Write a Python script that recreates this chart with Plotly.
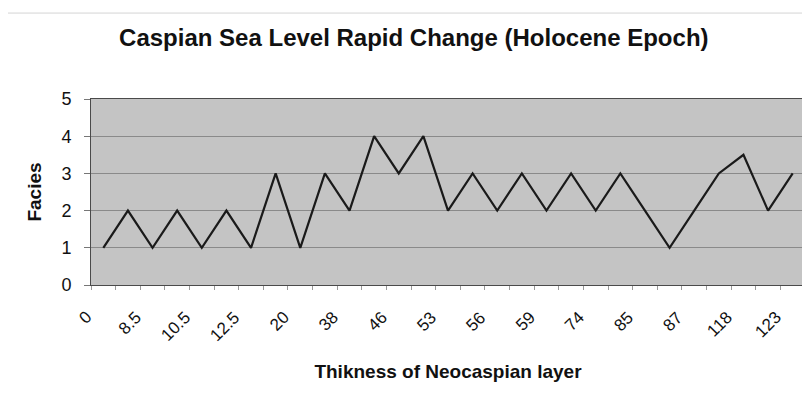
import plotly.graph_objects as go

# Data
category_index = list(range(29))
facies = [1, 2, 1, 2, 1, 2, 1, 3, 1, 3, 2, 4, 3, 4, 2, 3, 2, 3, 2, 3, 2, 3, 2, 1, 2, 3, 3.5, 2, 3]
tick_positions = list(range(0, 29, 2))
tick_labels = ["0", "8.5", "10.5", "12.5", "20", "38", "46", "53", "56", "59", "74", "85", "87", "118", "123"]

fig = go.Figure()
fig.add_trace(go.Scatter(
    x=category_index, y=facies, mode="lines",
    line=dict(color="#1a1a1a", width=2.2),
    hoverinfo="y", showlegend=False,
))

# rotated category labels (Excel style: anchored up-right, left of the tick)
annotations = [
    dict(x=pos, y=0, xref="x", yref="y", text=lab, showarrow=False,
         textangle=-45, xanchor="right", yanchor="top", xshift=-5, yshift=-20,
         font=dict(size=17, color="#111111"))
    for pos, lab in zip(tick_positions, tick_labels)
]

fig.update_layout(
    width=810, height=405,
    margin=dict(l=83, r=13, t=91, b=128, autoexpand=False),
    paper_bgcolor="white",
    plot_bgcolor="#c4c4c4",
    font=dict(family="Liberation Sans, Arial, sans-serif", color="#111111"),
    title=dict(text="<b>Caspian Sea Level Rapid Change (Holocene Epoch)</b>",
               x=0.501, xanchor="center", y=0.926, yanchor="middle",
               font=dict(size=24, color="#111111")),
    shapes=[dict(type="line", xref="paper", yref="paper", x0=-0.13, x1=1.02,
                 y0=1.462, y1=1.462, line=dict(color="#d4d4d4", width=1))],
    annotations=annotations,
)

fig.update_xaxes(
    range=[-0.5, 28.5], automargin=False,
    tickmode="array", tickvals=tick_positions, showticklabels=False,
    ticks="", showgrid=False, zeroline=False,
    showline=True, linecolor="#4a4a4a", linewidth=1, mirror=True,
    minor=dict(tickmode="linear", tick0=-0.5, dtick=1, ticks="outside",
               ticklen=4, tickcolor="#999999", showgrid=False),
    title=dict(text="<b>Thikness of Neocaspian layer</b>", font=dict(size=19), standoff=79),
)

fig.update_yaxes(
    range=[0, 5], dtick=1, tickfont=dict(size=18), automargin=False,
    ticks="outside", ticklen=6, tickcolor="#777777", ticklabelstandoff=9,
    showgrid=True, gridcolor="#8a8a8a", gridwidth=1, zeroline=False,
    showline=True, linecolor="#4a4a4a", linewidth=1, mirror=True,
    title=dict(text="<b>Facies</b>", font=dict(size=19), standoff=14),
)

fig.write_html("out.html")
